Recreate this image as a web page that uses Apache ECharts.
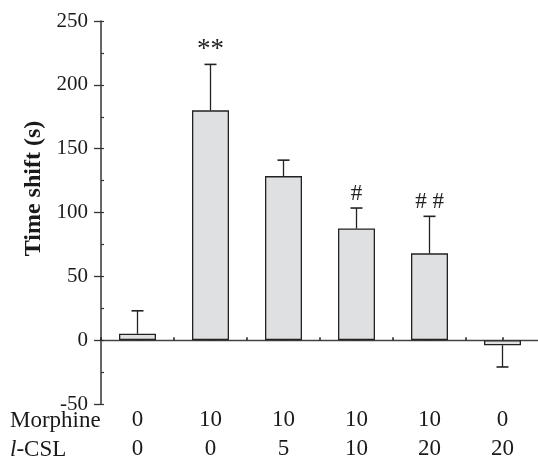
<!DOCTYPE html>
<html><head><meta charset="utf-8">
<script src="https://cdn.jsdelivr.net/npm/echarts@6/dist/echarts.min.js"></script>
<style>html,body{margin:0;padding:0;background:#fff}#c{width:538px;height:462px}</style>
</head><body><div id="c"></div>
<script>
var morphine = ['0','10','10','10','10','0'];
var lcsl = ['0','0','5','10','20','20'];
var means = [5, 180, 128.5, 87.5, 68, -4];
var errors = [18, 36, 12.5, 16, 29, -17];
var sigLabels = ['', '**', '', '#', '# #', ''];
var yTicks = [-50, 0, 50, 100, 150, 200, 250];

var cats = morphine.map(function(m, i){ return m + '\n' + lcsl[i]; });
var FONT = '"Liberation Serif", "Times New Roman", serif';
var chart = echarts.init(document.getElementById('c'), null, {renderer:'canvas'});

var errData = means.map(function(m, i){ return [i, m, m + errors[i]]; });
var sigData = means.map(function(m, i){ return [i, m + errors[i], sigLabels[i]]; });

chart.setOption({
  animation: false,
  grid: {left: 101, right: -1, top: 21, bottom: 58, containLabel: false, outerBoundsMode: 'none'},
  xAxis: [{
    type: 'category', data: cats,
    axisLine: {show: false, onZero: false}, axisTick: {show: false},
    axisLabel: {margin: 1, fontFamily: FONT, fontSize: 23, color: '#1a1a1a', lineHeight: 29}
  }, {
    type: 'value', min: 0, max: 12, interval: 1, position: 'bottom',
    axisLine: {show: true, onZero: true, lineStyle: {color: '#444', width: 1.3}},
    axisTick: {show: true, inside: true, length: 3, lineStyle: {color: '#222', width: 1.5}},
    axisLabel: {show: false}, splitLine: {show: false}
  }],
  yAxis: [{
    type: 'value', min: yTicks[0], max: yTicks[yTicks.length-1], interval: 50,
    name: 'Time shift (s)', nameLocation: 'middle', nameGap: 43,
    nameTextStyle: {fontFamily: FONT, fontSize: 24, fontWeight: 'bold', color: '#1a1a1a', padding: [0, 0, 0, 48]},
    axisLine: {show: true, onZero: false, lineStyle: {color: '#333', width: 1.5}},
    axisTick: {show: true, length: 7, lineStyle: {color: '#333', width: 1.3}},
    axisLabel: {margin: 13, fontFamily: FONT, fontSize: 21, color: '#1a1a1a'},
    splitLine: {show: false}
  }, {
    type: 'value', min: -50, max: 250, interval: 25, position: 'left',
    axisLine: {show: false}, axisLabel: {show: false}, splitLine: {show: false},
    axisTick: {show: true, inside: true, length: 3, lineStyle: {color: '#333', width: 1.2}}
  }],
  series: [{
    type: 'bar', data: means, barWidth: 37, xAxisIndex: 0, yAxisIndex: 0,
    itemStyle: {color: '#dfe0e2', borderColor: '#222', borderWidth: 1.3}
  }, {
    type: 'custom', xAxisIndex: 0, yAxisIndex: 0, data: errData, z: 5,
    renderItem: function(params, api){
      var x = api.value(0);
      var p0 = api.coord([x, api.value(1)]);
      var p1 = api.coord([x, api.value(2)]);
      var w = 6;
      return {type: 'group', children: [
        {type: 'line', shape: {x1: p0[0], y1: p0[1], x2: p1[0], y2: p1[1]}, style: {stroke: '#222', lineWidth: 1.3}},
        {type: 'line', shape: {x1: p1[0]-w, y1: p1[1], x2: p1[0]+w, y2: p1[1]}, style: {stroke: '#222', lineWidth: 1.6}}
      ]};
    }
  }, {
    type: 'custom', xAxisIndex: 0, yAxisIndex: 0, data: sigData, z: 6,
    renderItem: function(params, api){
      var i = params.dataIndex;
      var p = api.coord([api.value(0), api.value(1)]);
      var big = sigLabels[i] === '**';
      return {type: 'text', style: {x: p[0], y: p[1] - (big ? 1 : 3), text: sigLabels[i], align: 'center', verticalAlign: 'bottom',
        font: (big ? '27px ' : '23px ') + FONT, fill: '#222'}};
    }
  }],
  graphic: [
    {type: 'text', left: 10, top: 409, style: {text: 'Morphine', font: '23px ' + FONT, fill: '#1a1a1a'}},
    {type: 'text', left: 10, top: 438, style: {rich: {i: {fontStyle: 'italic', fontFamily: FONT, fontSize: 23, fill: '#1a1a1a'}, n: {fontFamily: FONT, fontSize: 23, fill: '#1a1a1a'}}, text: '{i|l}{n|-CSL}'}}
  ]
});
</script></body></html>
